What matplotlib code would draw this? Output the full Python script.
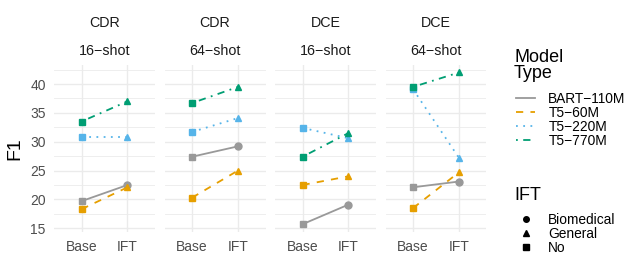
import numpy as np
import matplotlib
matplotlib.use("Agg")
import matplotlib.pyplot as plt
from matplotlib.lines import Line2D

plt.rcParams['font.family'] = ['Liberation Sans', 'DejaVu Sans']

# facets
datasets = ["CDR", "CDR", "DCE", "DCE"]
shots = ["16\u2212shot", "64\u2212shot", "16\u2212shot", "64\u2212shot"]
stages = ["Base", "IFT"]

models = ["BART\u2212110M", "T5\u221260M", "T5\u2212220M", "T5\u2212770M"]
# F1 per facet, Base and IFT
bart_base = [19.7, 27.4, 15.7, 22.1]
bart_ift = [22.5, 29.2, 19.1, 23.1]
t5_60m_base = [18.3, 20.3, 22.5, 18.5]
t5_60m_ift = [22.1, 25.0, 24.0, 24.7]
t5_220m_base = [30.8, 31.7, 32.4, 39.1]
t5_220m_ift = [30.8, 34.1, 30.6, 27.2]
t5_770m_base = [33.5, 36.7, 27.4, 39.5]
t5_770m_ift = [37.0, 39.5, 31.5, 42.0]

base_vals = [bart_base, t5_60m_base, t5_220m_base, t5_770m_base]
ift_vals = [bart_ift, t5_60m_ift, t5_220m_ift, t5_770m_ift]
ift_type = ["Biomedical", "General", "General", "General"]

colors = ["#999999", "#E69F00", "#56B4E9", "#009E73"]
styles = ["-", (0, (4, 4)), (0, (1, 3)), (0, (1, 3, 4, 3))]
shape_of = {"Biomedical": "o", "General": "^", "No": "s"}

W, H = 643, 264
fig = plt.figure(figsize=(W / 100, H / 100), dpi=100)

lefts = [54, 164.5, 275, 385.5]
pw = 101
top, bot = 65, 232
grid_c = "#EBEBEB"
txt_c = "#4D4D4D"

axes = []
for i in range(4):
    ax = fig.add_axes([lefts[i] / W, 1 - bot / H, pw / W, (bot - top) / H])
    axes.append(ax)
    for s in ax.spines.values():
        s.set_visible(False)
    ax.set_xlim(0.4, 2.6)
    ax.set_ylim(14.35, 43.3)
    ax.set_yticks([15, 20, 25, 30, 35, 40])
    ax.set_yticks(np.arange(17.5, 43, 5), minor=True)
    ax.set_xticks([1, 2])
    ax.set_xticklabels(stages)
    ax.grid(True, which="major", color=grid_c, lw=1.0)
    ax.grid(True, which="minor", axis="y", color=grid_c, lw=0.6)
    ax.set_axisbelow(True)
    ax.tick_params(which="both", length=0, labelsize=10, colors=txt_c)
    ax.tick_params(axis="x", pad=6)
    ax.tick_params(axis="y", pad=6)
    if i > 0:
        ax.tick_params(labelleft=False)
    for m in range(4):
        ax.plot([1, 2], [base_vals[m][i], ift_vals[m][i]], color=colors[m],
                ls=styles[m], lw=1.3, zorder=2 + m)
        ax.plot(1, base_vals[m][i], marker=shape_of["No"], color=colors[m],
                ms=4.5, ls="none", zorder=2 + m)
        ax.plot(2, ift_vals[m][i], marker=shape_of[ift_type[m]], color=colors[m],
                ms=5, ls="none", zorder=2 + m)
    cx = (lefts[i] + pw / 2) / W
    fig.text(cx, 1 - 23 / H, datasets[i], ha="center", va="center", fontsize=10.3, color="#1A1A1A")
    fig.text(cx, 1 - 51 / H, shots[i], ha="center", va="center", fontsize=10.3, color="#1A1A1A")

axes[0].set_ylabel("F1", fontsize=14, labelpad=5)

# legends (titles drawn as text, ggplot style)
fig.text(514 / W, 1 - 57 / H, "Model", fontsize=13, va="center", ha="left")
fig.text(514 / W, 1 - 73 / H, "Type", fontsize=13, va="center", ha="left")
line_handles = [Line2D([0], [0], color=colors[m], ls=styles[m], lw=1.3) for m in range(4)]
fig.legend(line_handles, models, loc="upper left",
           bbox_to_anchor=(516 / W, 1 - 92 / H), frameon=False, fontsize=9.9,
           handlelength=1.4, handletextpad=0.95, labelspacing=0.0,
           borderaxespad=0, borderpad=0)

fig.text(514 / W, 1 - 195 / H, "IFT", fontsize=13, va="center", ha="left")
shape_names = ["Biomedical", "General", "No"]
shape_handles = [Line2D([0], [0], marker=shape_of[n], color="black", ls="none", ms=4)
                 for n in shape_names]
fig.legend(shape_handles, shape_names, loc="upper left",
           bbox_to_anchor=(516 / W, 1 - 213 / H), frameon=False, fontsize=9.9,
           handlelength=1.4, handletextpad=0.95, labelspacing=0.0,
           borderaxespad=0, borderpad=0)

fig.savefig("out.png", dpi=100, facecolor="white")
